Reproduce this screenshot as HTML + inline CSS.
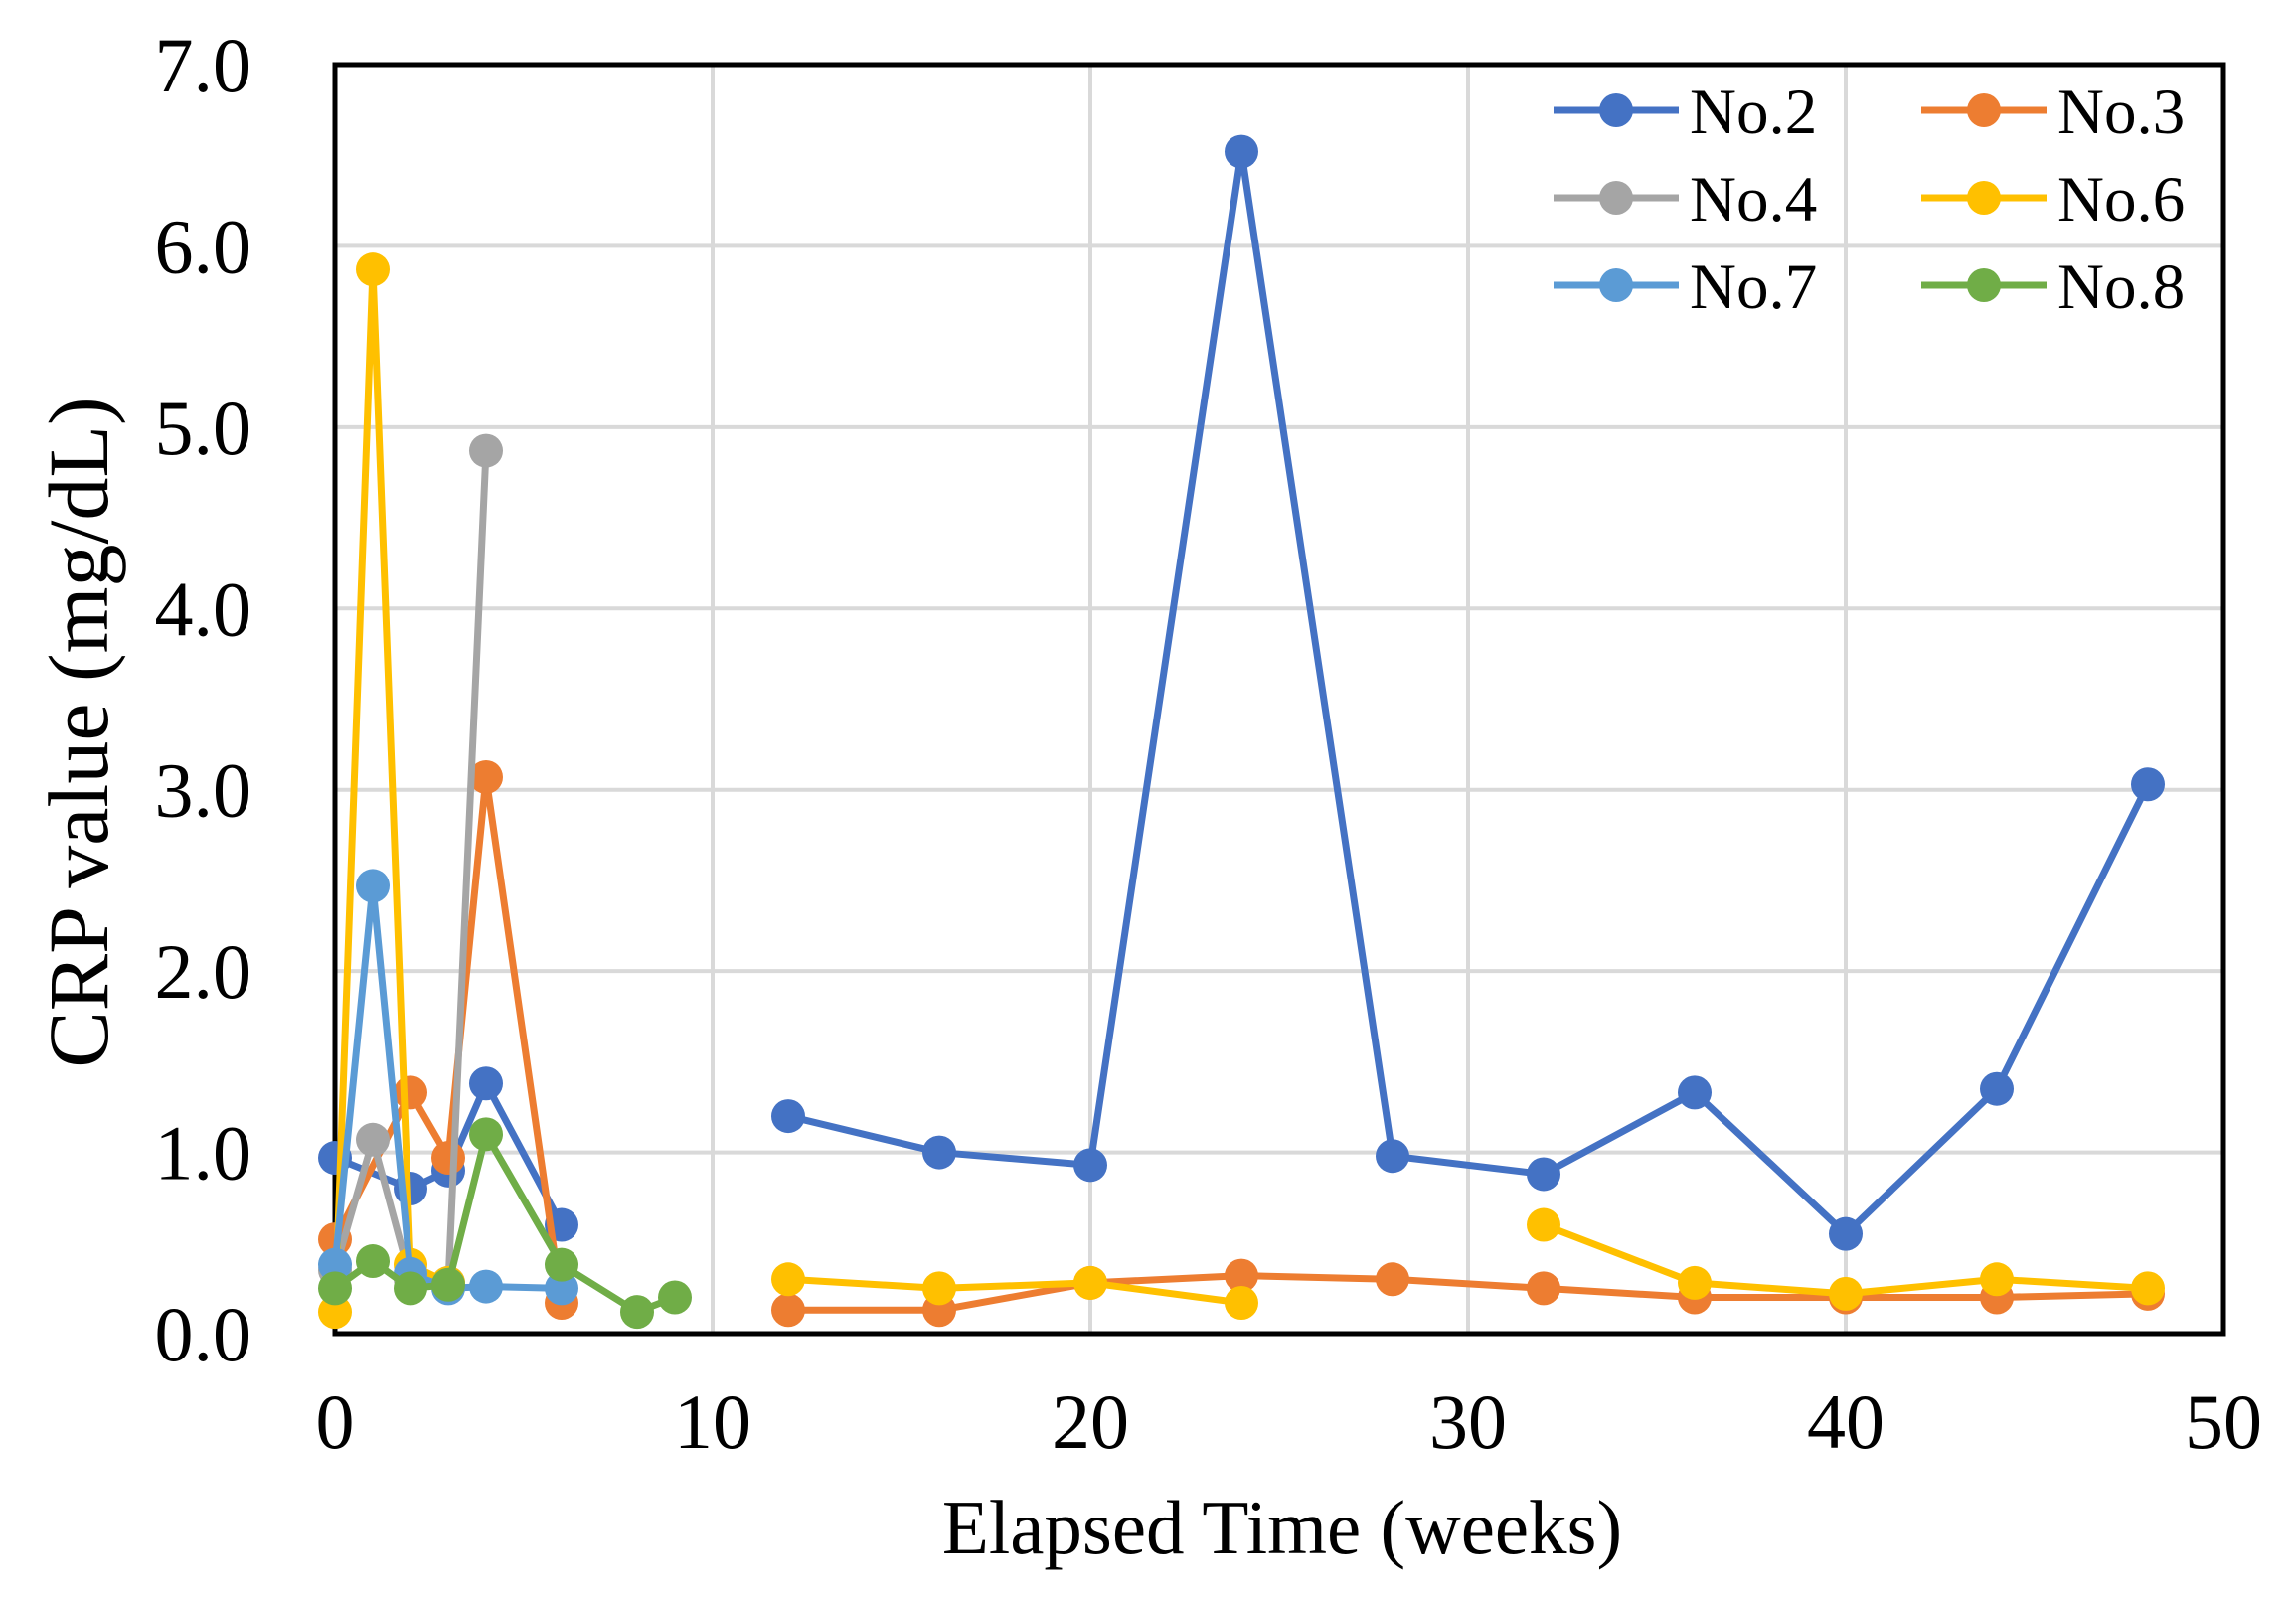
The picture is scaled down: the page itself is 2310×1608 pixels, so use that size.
<!DOCTYPE html>
<html><head><meta charset="utf-8"><style>
html,body{margin:0;padding:0;background:#fff;}
svg{display:block;font-family:"Liberation Serif",serif;}
</style></head><body>
<svg id="chart" width="2310" height="1608" viewBox="0 0 2310 1608">
<g id="grid"></g>
<g id="axes"></g>
<g id="series"></g>
<g id="legend"></g>
<text x="1290" y="1563" font-size="77" text-anchor="middle">Elapsed Time (weeks)</text>
<text transform="translate(108,737) rotate(-90)" font-size="86" text-anchor="middle">CRP value (mg/dL)</text>
</svg>
<script>
const xTicks=[0,10,20,30,40,50];
const yTicks=[0,1,2,3,4,5,6,7];
const seriesNames=["No.2","No.3","No.4","No.6","No.7","No.8"];
const colors=["#4472C4","#ED7D31","#A5A5A5","#FFC000","#5B9BD5","#70AD47"];
const x2=[0,2,3,4,6,null,12,16,20,24,28,32,36,40,44,48];
const y2=[0.97,0.8,0.9,1.38,0.6,null,1.2,1.0,0.93,6.52,0.98,0.88,1.33,0.55,1.35,3.03];
const x3=[0,2,3,4,6,null,12,16,20,24,28,32,36,40,44,48];
const y3=[0.52,1.33,0.97,3.07,0.17,null,0.13,0.13,0.28,0.32,0.3,0.25,0.2,0.2,0.2,0.22];
const x4=[0,1,2,3,4];
const y4=[0.35,1.07,0.3,0.28,4.87];
const x6=[0,1,2,3,null,12,16,20,24,null,32,36,40,44,48];
const y6=[0.12,5.87,0.38,0.28,null,0.3,0.25,0.28,0.17,null,0.6,0.28,0.22,0.3,0.25];
const x7=[0,1,2,3,4,6];
const y7=[0.38,2.47,0.33,0.25,0.26,0.25];
const x8=[0,1,2,3,4,6,8,9];
const y8=[0.25,0.4,0.25,0.27,1.1,0.38,0.12,0.2];
const allX=[x2,x3,x4,x6,x7,x8], allY=[y2,y3,y4,y6,y7,y8];
const L=337,R=2237,T=65,B=1342;
const sx=v=>L+(R-L)*v/50, sy=v=>B-(B-T)*v/7;
const NS="http://www.w3.org/2000/svg";
function mk(tag,attrs,parent){const e=document.createElementNS(NS,tag);for(const k in attrs)e.setAttribute(k,attrs[k]);parent.appendChild(e);return e;}
const grid=document.getElementById('grid'),axes=document.getElementById('axes'),ser=document.getElementById('series'),leg=document.getElementById('legend');
yTicks.forEach(v=>{
 const l=mk('line',{x1:L,x2:R,y1:sy(v),y2:sy(v),stroke:'#d9d9d9','stroke-width':4},grid);
 
 
 const t=mk('text',{x:L-84,y:sy(v)+27,'font-size':78,'text-anchor':'end'},axes);
 t.textContent=v.toFixed(1);
 
 
});
xTicks.forEach(v=>{
 const l=mk('line',{x1:sx(v),x2:sx(v),y1:T,y2:B,stroke:'#d9d9d9','stroke-width':4},grid);
 
 
 const t=mk('text',{x:sx(v),y:1457,'font-size':78,'text-anchor':'middle'},axes);
 t.textContent=v;
 
 
});
const fr=mk('rect',{x:L,y:T,width:R-L,height:B-T,fill:'none',stroke:'#000','stroke-width':5},axes);


allX.forEach((xs,i)=>{
 const g=mk('g',{},ser);
 
 
 let seg=[];
 const flush=()=>{if(seg.length>1){const p=mk('polyline',{points:seg.join(' '),fill:'none',stroke:colors[i],'stroke-width':7,'stroke-linejoin':'round'},g);
  
  }seg=[];};
 xs.forEach((x,j)=>{if(x===null){flush();return;}seg.push(sx(x)+','+sy(allY[i][j]));});
 flush();
 xs.forEach((x,j)=>{if(x===null)return;
  const c=mk('circle',{cx:sx(x),cy:sy(allY[i][j]),r:17,fill:colors[i]},g);
  
  });
});
seriesNames.forEach((n,i)=>{
 const col=i%2,row=Math.floor(i/2);
 const lx=col?1933:1563, ly=111+row*88;
 const g=mk('g',{},leg);
 
 
 mk('line',{x1:lx,x2:lx+126,y1:ly,y2:ly,stroke:colors[i],'stroke-width':7},g);
 mk('circle',{cx:lx+63,cy:ly,r:17,fill:colors[i]},g);
 const t=mk('text',{x:lx+137,y:ly+23,'font-size':65},g);
 t.textContent=n;
});
</script>
</body></html>
